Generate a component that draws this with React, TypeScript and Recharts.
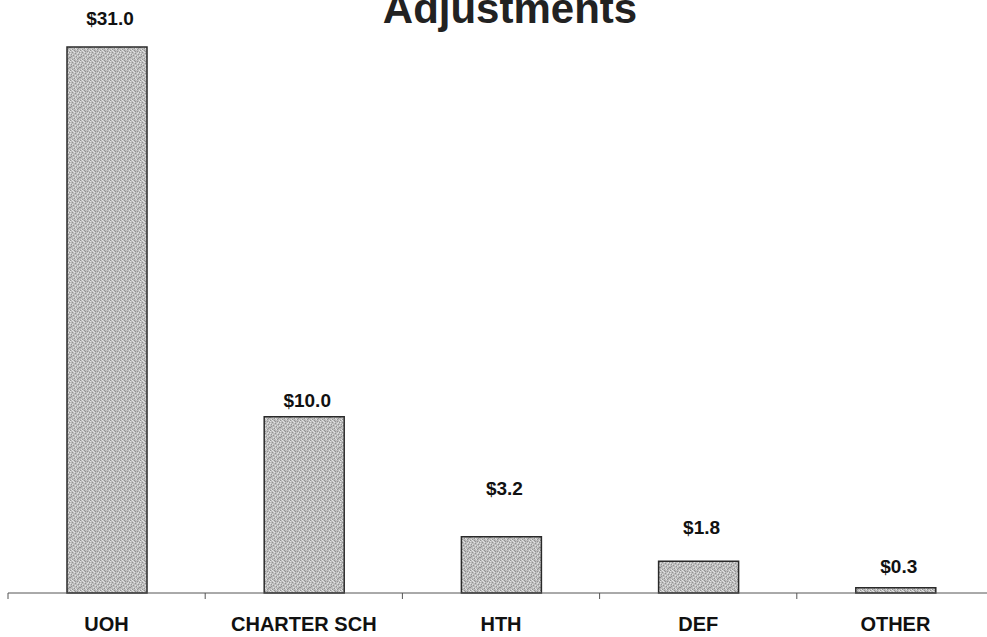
import React from "react";
import { BarChart, Bar, XAxis, YAxis, LabelList } from "recharts";

const categories = ["UOH", "CHARTER SCH", "HTH", "DEF", "OTHER"];
const values = [31.0, 10.0, 3.2, 1.8, 0.3];
const valueLabels = ["$31.0", "$10.0", "$3.2", "$1.8", "$0.3"];
const title = "Adjustments";

const data = categories.map((name, i) => ({ name, value: values[i], label: valueLabels[i] }));

// style: gap between label baseline and bar top, per category (labels were placed by hand in the original)
const labelGap: Record<string, number> = { UOH: 22, "CHARTER SCH": 10, HTH: 42, DEF: 27, OTHER: 15 };

const FONT = '"Liberation Sans", Arial, Helvetica, sans-serif';
const CHART_W = 1000;
const CHART_H = 637;
const M = { top: 47, right: 6, left: 8, bottom: 0 };
const BAND = (CHART_W - M.left - M.right) / categories.length;

// stipple texture (style only), hand-placed pixels in a 10x10 tile
const dark = [[0,0],[4,0],[7,1],[2,2],[9,2],[5,3],[1,4],[8,4],[3,5],[6,6],[0,7],[9,7],[4,8],[7,9],[2,9],[5,1],[8,8],[1,6]];
const light = [[2,0],[9,0],[0,1],[4,2],[7,3],[2,4],[5,5],[9,5],[0,3],[3,7],[7,6],[5,8],[1,9],[8,2],[6,9],[3,1]];

const CustomTick = (props: any) => {
  const { x, payload, index } = props;
  const y0 = 593;
  return (
    <g>
      <line x1={x - BAND / 2} x2={x - BAND / 2} y1={y0} y2={y0 + 6} stroke="#555" strokeWidth={1} />
      {index === categories.length - 1 && (
        <line x1={x + BAND / 2} x2={x + BAND / 2} y1={y0} y2={y0 + 6} stroke="#555" strokeWidth={1} />
      )}
      <text x={x} y={631} textAnchor="middle" fontFamily={FONT} fontWeight="bold" fontSize={20} fill="#111">
        {payload.value}
      </text>
    </g>
  );
};

const CustomLabel = (props: any) => {
  const { x, y, width, index } = props;
  const d = data[index];
  const gap = labelGap[d.name] ?? 18;
  return (
    <text x={x + width / 2 + 3} y={y - gap} textAnchor="middle" fontFamily={FONT} fontWeight="bold" fontSize={19} fill="#111">
      {d.label}
    </text>
  );
};

export default function App() {
  return (
    <div style={{ position: "absolute", left: 0, top: 0, width: 987, height: 637, overflow: "hidden", background: "#fff" }}>
      <svg width={0} height={0} style={{ position: "absolute" }}>
        <defs>
          <pattern id="stipple" width={10} height={10} patternUnits="userSpaceOnUse">
            <rect width={10} height={10} fill="#bdbdbd" />
            {dark.map(([a, b], i) => (
              <rect key={"d" + i} x={a} y={b} width={1} height={1} fill="#939393" />
            ))}
            {light.map(([a, b], i) => (
              <rect key={"l" + i} x={a} y={b} width={1} height={1} fill="#e2e2e2" />
            ))}
          </pattern>
        </defs>
      </svg>
      <BarChart width={CHART_W} height={CHART_H} data={data} margin={M} barSize={80}>
        <XAxis
          dataKey="name"
          height={44}
          interval={0}
          tickLine={false}
          axisLine={{ stroke: "#555", strokeWidth: 1 }}
          tick={<CustomTick />}
        />
        <YAxis hide domain={[0, 31]} />
        <Bar dataKey="value" fill="url(#stipple)" stroke="#2a2a2a" strokeWidth={1.5} isAnimationActive={false}>
          <LabelList dataKey="value" content={<CustomLabel />} />
        </Bar>
      </BarChart>
      <svg width={987} height={60} style={{ position: "absolute", left: 0, top: 0, pointerEvents: "none" }}>
        <text x={510} y={23} textAnchor="middle" fontFamily={FONT} fontWeight="bold" fontSize={42} fill="#222">
          {title}
        </text>
      </svg>
    </div>
  );
}
